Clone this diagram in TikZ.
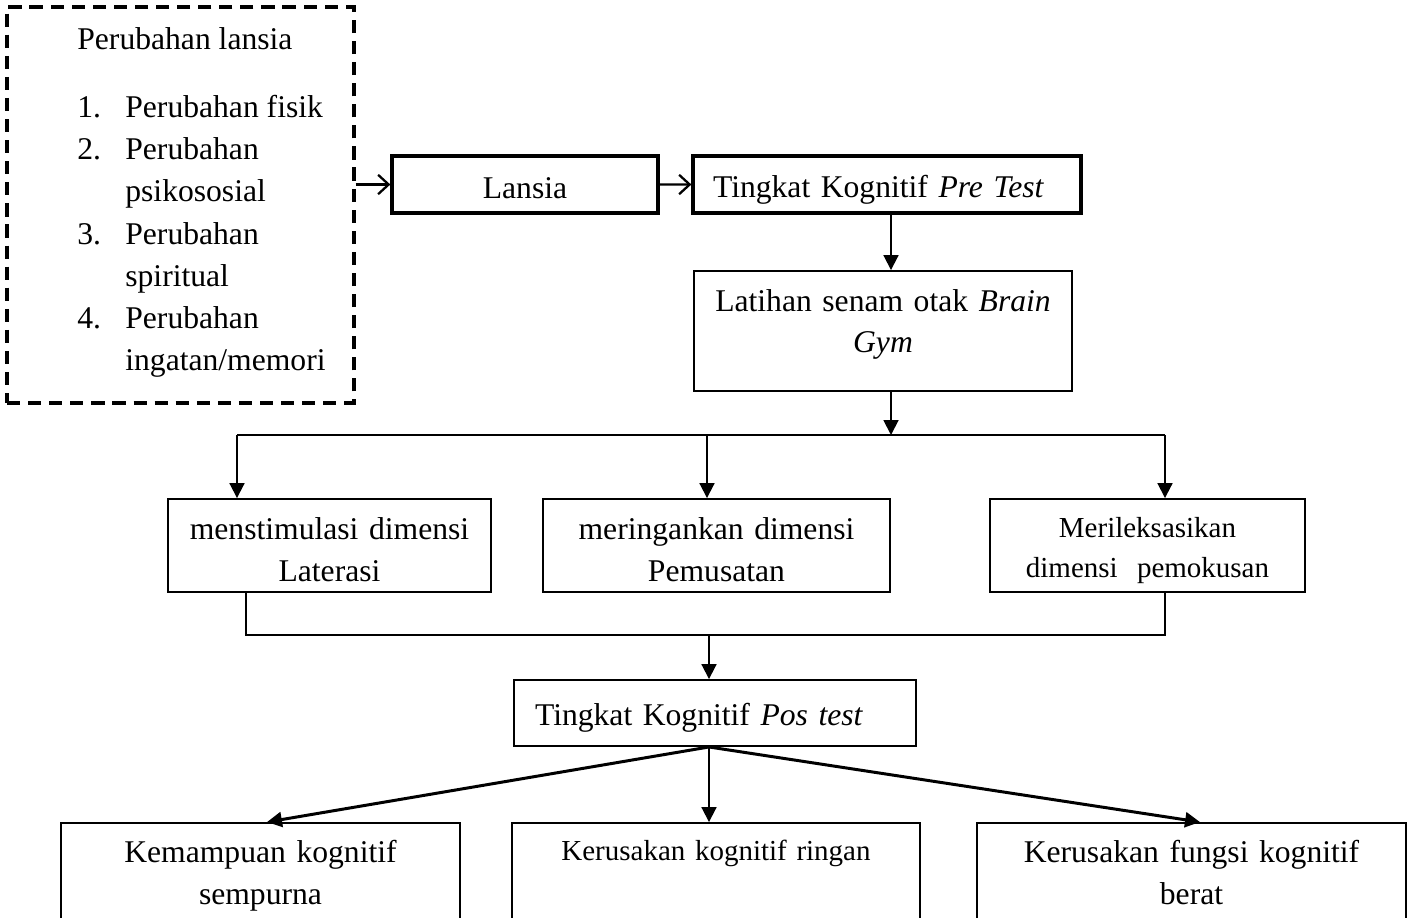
\documentclass[tikz,border=0pt]{standalone}
\usepackage{fontspec}
\setmainfont{Liberation Serif}
\usetikzlibrary{arrows.meta}

\begin{document}
\begin{tikzpicture}[x=0.02cm,y=-0.02cm,
  font=\fontsize{18}{23.9}\selectfont,
  kotak/.style={draw,line width=1.1pt,inner sep=0pt,anchor=base,align=center},
  tebal/.style={kotak,line width=1.9pt},
  kecil/.style={font=\fontsize{16.5}{23.3}\selectfont},
  panah/.style={line width=1.1pt,-{Triangle[length=8.5pt,width=8.5pt]}},
  buka/.style={line width=1.3pt,-{Straight Barb[length=6pt,width=11pt]}},
  tulisan/.style={anchor=base west,inner sep=0pt}]
  \useasboundingbox (0,0) rectangle (1407,917);
  \node[draw,line width=1.9pt,dash pattern=on 7.5pt off 4.5pt,inner sep=0pt,
    minimum width=6.94cm,minimum height=7.92cm] (ubah) at (180.5,205) {};
  \node[tulisan] (judul) at (77,49) {Perubahan lansia};
  \foreach \n/\y in {1/117,2/159,3/244,4/328}
    \node[tulisan] (no\n) at (77,\y) {\n.};
  \foreach \t/\y [count=\k] in {Perubahan fisik/117,Perubahan/159,psikososial/201,
      Perubahan/244,spiritual/286,Perubahan/328,{ingatan/memori}/370}
    \node[tulisan] (isi\k) at (125,\y) {\t};

  \node[tebal,text width=5.32cm,text height=0.84cm,text depth=0.30cm] (lansia) at (525,198) {Lansia};
  \node[tebal,text width=6.96cm,inner xsep=0.4cm,align=left,text height=0.82cm,text depth=0.32cm]
    (pre) at (887,197) {Tingkat Kognitif \textit{Pre Test}};
  \node[kotak,text width=7.56cm,text height=0.8cm,text depth=1.6cm]
    (latihan) at (883,311) {Latihan senam otak \textit{Brain}\\\textit{Gym}};

  \node[kotak,text width=6.46cm,text height=0.8cm,text depth=1.06cm]
    (m1) at (329.5,539) {menstimulasi dimensi\\Laterasi};
  \node[kotak,text width=6.94cm,text height=0.8cm,text depth=1.06cm]
    (m2) at (716.5,539) {meringankan dimensi\\Pemusatan};
  \node[kotak,kecil,text width=6.3cm,text height=0.76cm,text depth=1.1cm]
    (m3) at (1147.5,537) {Merileksasikan\\dimensi\ \ pemokusan};

  \node[kotak,text width=7.2cm,inner xsep=0.42cm,align=left,text height=0.9cm,text depth=0.42cm]
    (pos) at (715,725) {Tingkat Kognitif \textit{Pos test}};

  \node[kotak,text width=7.98cm,text height=0.78cm,text depth=1.96cm]
    (hA) at (260.5,862) {Kemampuan kognitif\\sempurna};
  \node[kotak,kecil,text width=8.16cm,text height=0.74cm,text depth=2cm]
    (hB) at (716,860) {Kerusakan kognitif ringan};
  \node[kotak,text width=8.58cm,text height=0.78cm,text depth=1.96cm]
    (hC) at (1191.5,862) {Kerusakan fungsi kognitif\\berat};

  \draw[buka] (ubah.east |- lansia.west) -- (lansia.west);
  \draw[buka] (lansia.east) -- (pre.west);
  \coordinate (cabang) at (891,435);
  \draw[panah] (cabang |- pre.south) -- (cabang |- latihan.north);
  \draw[panah] (cabang |- latihan.south) -- (cabang);
  \coordinate (k1) at (237,435);
  \coordinate (k2) at (707,435);
  \coordinate (k3) at (1165,435);
  \draw[line width=1.5pt] (k1) -- (k3);
  \foreach \i in {1,2,3}
    \draw[panah] (k\i) -- (k\i |- m\i.north);

  \coordinate (g1) at (246,635);
  \coordinate (g3) at (1165,635);
  \coordinate (gabung) at (709,635);
  \draw[line width=0.8pt] (g1 |- m1.south) -- (g1) -- (g3) -- (g3 |- m3.south);
  \draw[panah] (gabung) -- (gabung |- pos.north);
  \coordinate (pangkal) at (pos.south -| gabung);
  \draw[panah,line width=1.7pt] (pangkal) -- ([xshift=0.13cm]hA.north);
  \draw[panah] (pangkal) -- (pangkal |- hB.north);
  \draw[panah,line width=1.7pt] (pangkal) -- ([xshift=0.17cm]hC.north);
\end{tikzpicture}
\end{document}
